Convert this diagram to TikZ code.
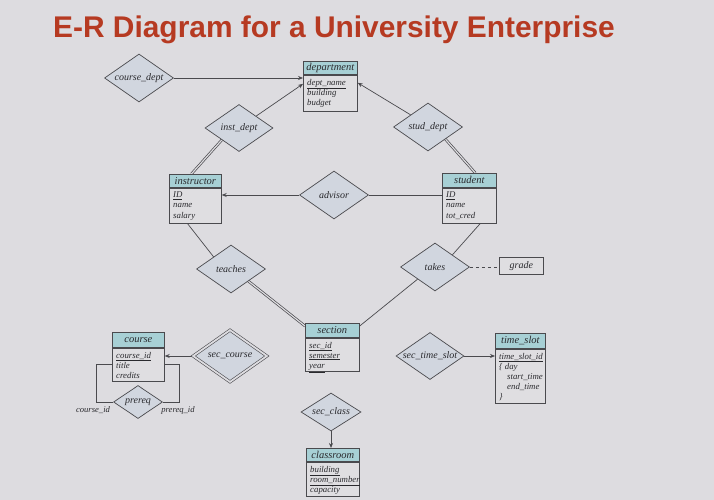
\documentclass[tikz,border=0pt]{standalone}
\usepackage{fontspec}
\newfontfamily\titlefont{Liberation Sans}
\newfontfamily\efont{Liberation Serif}
\usetikzlibrary{shapes.geometric,arrows.meta,calc}
\pgfdeclarelayer{bottom}
\pgfdeclarelayer{edges}
\pgfsetlayers{bottom,edges,main}
\definecolor{bg}{HTML}{DDDCE0}
\definecolor{titlered}{HTML}{B63A22}
\definecolor{dfill}{HTML}{D1D6DF}
\definecolor{hfill}{HTML}{A7D0D5}
\definecolor{bfill}{HTML}{DFDEE1}
\definecolor{lc}{HTML}{4A4A4E}
\definecolor{tc}{HTML}{2A2A2E}
\tikzset{
 conn/.style={draw=lc, line width=0.7pt},
 arr/.style={conn, -{Stealth[length=5pt,width=4pt]}},
 dbl/.style={draw=lc, line width=0.7pt, double=bg, double distance=1.2pt},
 rel/.style={diamond, aspect=1.5, draw=lc, fill=dfill, line width=0.7pt, inner sep=0pt,
   minimum width=69pt, minimum height=48pt, font=\efont\fontsize{10}{12}\selectfont\itshape, text=tc},
 hdr/.style={draw=lc, fill=hfill, line width=0.7pt, inner sep=0pt, font=\efont\fontsize{10.5}{12}\selectfont\itshape, text=tc},
 ebody/.style={draw=lc, fill=bfill, line width=0.7pt, inner sep=0pt},
 attr/.style={inner sep=0pt, align=left, font=\efont\fontsize{8.8}{10.2}\selectfont\itshape, text=tc},
 lbl/.style={inner sep=0pt, font=\efont\fontsize{8.6}{10}\selectfont\itshape, text=tc},
}
% name, x, y (top-left), width, header h, body h, header text, attributes
\newcommand\ent[8]{%
 \node[hdr, minimum width=#4pt, minimum height=#5pt, anchor=north west] (#1) at (#2,#3) {#7};
 \node[ebody, minimum width=#4pt, minimum height=#6pt, anchor=north] (#1-b) at (#1.south) {};
 \node[attr, anchor=north west] (#1-a) at ($(#1-b.north west)+(4,4)$) {#8};
}
\begin{document}
\begin{tikzpicture}[x=1pt,y=-1pt]
\begin{pgfonlayer}{bottom}
\path[use as bounding box, fill=bg] (0,0) rectangle (714,500);
\end{pgfonlayer}
\node[anchor=base west, inner sep=0pt, text=titlered,
  font=\titlefont\bfseries\fontsize{29.9}{32}\selectfont] (title) at (53,38)
  {E-R Diagram for a University Enterprise};

% entities
\ent{department}{303}{61}{54}{13}{36}{department}{\underline{dept\_name}\\building\\budget}
\ent{instructor}{169}{174}{52}{13}{35}{instructor}{\underline{ID}\\name\\salary}
\ent{student}{442}{173}{54}{14}{35}{student}{\underline{ID}\\name\\tot\_cred}
\ent{section}{305}{323}{54}{14}{33}{section}{\underline{sec\_id}\\\underline{semester}\\\underline{year}}
\ent{course}{112}{332}{52}{15}{33}{course}{\underline{course\_id}\\title\\credits}
\ent{timeslot}{495}{333}{50}{15}{54}{time\_slot}{\underline{time\_slot\_id}\\\{\ day\\\hspace{8pt}start\_time\\\hspace{8pt}end\_time\\\}}
\ent{classroom}{306}{448}{53}{13}{34}{classroom}{\underline{building}\\\underline{room\_number}\\capacity}
\node[ebody, minimum width=44pt, minimum height=17pt, anchor=north west,
  font=\efont\fontsize{10}{12}\selectfont\itshape, text=tc] (grade) at (499,257) {grade};

% relationships
\node[rel] (coursedept) at (139,78) {course\_dept};
\node[rel, minimum width=68pt, minimum height=47pt] (instdept) at (239,128) {inst\_dept};
\node[rel] (studdept) at (428,127) {stud\_dept};
\node[rel] (advisor) at (334,195) {advisor};
\node[rel] (teaches) at (231,269) {teaches};
\node[rel] (takes) at (435,267) {takes};
\node[rel, minimum width=74pt, minimum height=52pt, double=bg, double distance=1.8pt, line width=0.6pt] (seccourse) at (230,356) {sec\_course};
\node[rel, minimum width=68pt, minimum height=47pt] (sectimeslot) at (430,356) {sec\_time\_slot};
\node[rel, minimum width=60pt, minimum height=38pt] (secclass) at (331,412) {sec\_class};
\node[rel, minimum width=49pt, minimum height=33pt] (prereq) at (138,402) {prereq};

% connectors
\begin{pgfonlayer}{edges}
\draw[arr] (coursedept.east) -- (coursedept.east -| department.west);
\draw[dbl] (coursedept.south) -- (coursedept.south |- course.north);
\draw[arr] (instdept.north east) -- ($(department-b.north west)!0.25!(department-b.south west)$);
\draw[dbl] (instdept.south west) -- ($(instructor.north)+(-4,0)$);
\draw[arr] (studdept.north west) -- ($(department-b.north east)!0.22!(department-b.south east)$);
\draw[dbl] (studdept.south east) -- ($(student.north)+(6,0)$);
\draw[arr] (advisor.west) -- (advisor.west -| instructor.east);
\draw[conn] (advisor.east) -- (advisor.east -| student.west);
\draw[conn] ($(instructor-b.south)+(-8,0)$) -- (teaches.north west);
\draw[dbl] (teaches.south east) -- ($(section.north west)+(0,3)$);
\draw[conn] ($(student-b.south)+(11,0)$) -- (takes.north east);
\draw[conn] (takes.south west) -- ($(section.north east)+(0,3)$);
\draw[conn, dashed] (takes.east) -- (takes.east -| grade.west);
\draw[dbl] (sectimeslot.west -| section.east) -- (sectimeslot.west);
\draw[arr] (sectimeslot.east) -- (sectimeslot.east -| timeslot.west);
\draw[dbl] (seccourse.east -| section.west) -- (seccourse.east);
\draw[arr] (seccourse.west) -- (seccourse.west -| course.east);
\draw[dbl] (secclass.north |- section-b.south) -- (secclass.north);
\draw[arr] (secclass.south) -- (secclass.south |- classroom.north);
\draw[conn] (course-b.west) -- ++(-16,0) |- (prereq.west);
\draw[conn] (course-b.east) -- ++(15,0) |- (prereq.east);
\end{pgfonlayer}
\node[lbl] (lcid) at (93,410) {course\_id};
\node[lbl] (lpid) at (178,410) {prereq\_id};
\end{tikzpicture}
\end{document}
